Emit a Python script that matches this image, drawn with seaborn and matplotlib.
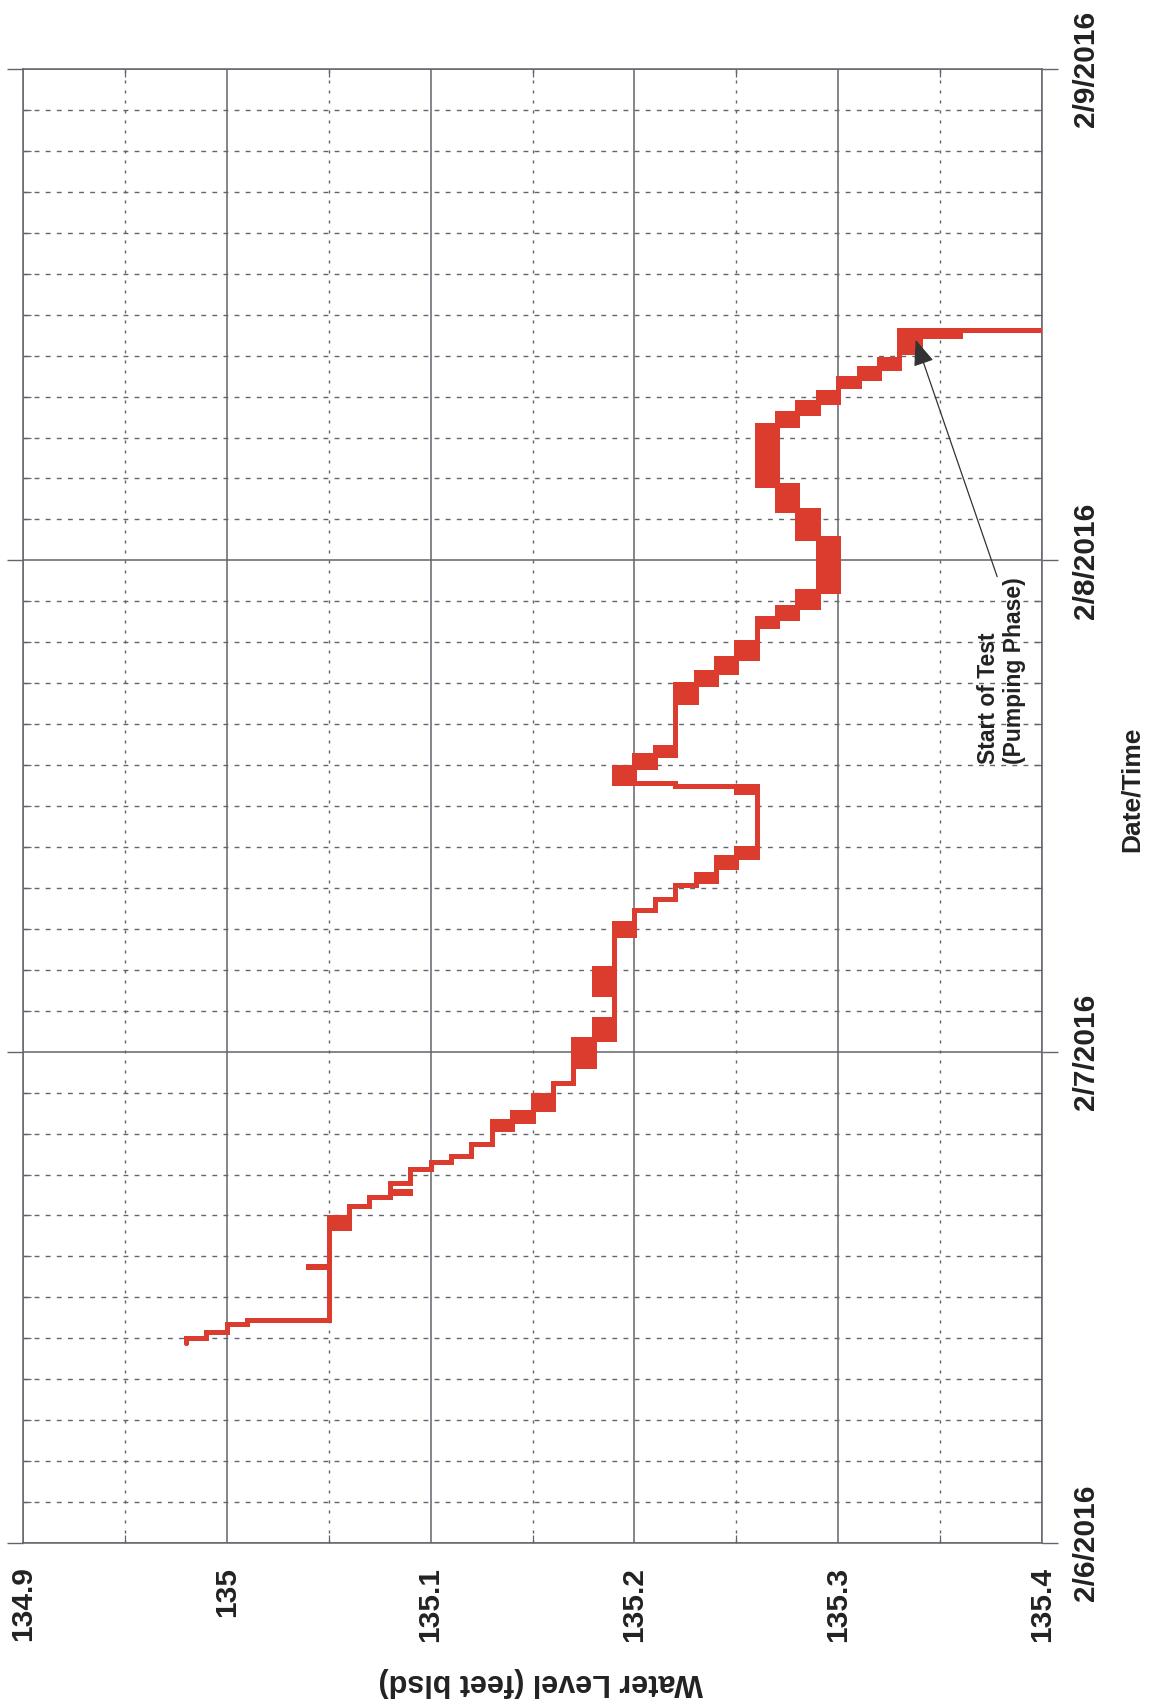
import matplotlib
matplotlib.use("Agg")
import matplotlib.pyplot as plt
import numpy as np
import pandas as pd
import seaborn as sns
from matplotlib.ticker import MultipleLocator

# Transducer record: hours since 2/6/2016 00:00, the reading held from that
# time on, and the upper reading where the logger flickers between two values.
hours = [9.75, 10.0, 10.33, 10.72, 10.87, 13.5, 13.55, 15.4, 15.93, 16.45,
         16.9, 17.12, 17.17, 17.6, 18.27, 18.6, 18.9, 19.5, 20.2, 20.6,
         21.05, 21.2, 21.9, 22.47, 23.3, 23.35, 23.45, 23.5, 23.6, 24.6,
         25.1, 25.3, 25.35, 25.55, 25.6, 26.8, 28.1, 29.7, 30.3, 30.9,
         31.45, 32.15, 32.35, 32.7, 33.0, 33.5, 33.95, 36.7, 37.0, 37.12,
         37.9, 38.5, 38.9, 41.1, 41.95, 42.55, 43.25, 44.0, 44.8, 45.2,
         45.7, 46.5, 49.1, 50.45, 51.7, 54.6, 55.2, 55.75, 56.2, 56.5,
         56.9, 57.4, 57.85, 58.2, 58.95, 59.0, 59.25, 60.0]
level_lo = [134.98, 134.99, 135.00, 135.01, 135.05, 135.04, 135.05, 135.05, 135.06, 135.07,
            135.08, 135.09, 135.08, 135.09, 135.10, 135.11, 135.12, 135.13, 135.13, 135.14,
            135.15, 135.15, 135.16, 135.17, 135.18, 135.17, 135.18, 135.17, 135.17, 135.18,
            135.19, 135.18, 135.19, 135.18, 135.19, 135.18, 135.19, 135.19, 135.20, 135.21,
            135.22, 135.23, 135.23, 135.24, 135.24, 135.25, 135.26, 135.25, 135.22, 135.19,
            135.20, 135.21, 135.22, 135.22, 135.23, 135.24, 135.25, 135.26, 135.26, 135.27,
            135.28, 135.29, 135.28, 135.27, 135.26, 135.27, 135.28, 135.29, 135.30, 135.30,
            135.31, 135.32, 135.33, 135.33, 135.36, 135.33, 135.55, 135.55]
level_hi = [134.98, 134.99, 135.00, 135.01, 135.05, 135.04, 135.05, 135.06, 135.06, 135.07,
            135.08, 135.09, 135.08, 135.09, 135.10, 135.11, 135.12, 135.13, 135.14, 135.15,
            135.15, 135.16, 135.16, 135.17, 135.18, 135.17, 135.18, 135.17, 135.18, 135.19,
            135.19, 135.18, 135.19, 135.18, 135.19, 135.19, 135.19, 135.20, 135.20, 135.21,
            135.22, 135.23, 135.24, 135.24, 135.25, 135.26, 135.26, 135.26, 135.22, 135.20,
            135.21, 135.22, 135.22, 135.23, 135.24, 135.25, 135.26, 135.26, 135.27, 135.28,
            135.29, 135.30, 135.29, 135.28, 135.27, 135.28, 135.29, 135.30, 135.30, 135.31,
            135.32, 135.33, 135.33, 135.34, 135.36, 135.34, 135.55, 135.55]

level_ticks = [134.9, 135.0, 135.1, 135.2, 135.3, 135.4]
level_tick_labels = ["134.9", "135", "135.1", "135.2", "135.3", "135.4"]
day_ticks = [0, 24, 48, 72]
day_labels = ["2/6/2016", "2/7/2016", "2/8/2016", "2/9/2016"]

test_start = (135.338, 58.77)
note_tail = (135.378, 47.2)
note_pos = (135.380, 38.06)

RED = "#dc3c2d"
GRID = "#62656c"
INK = "#222222"

sns.set_theme(style="white")
plt.rcParams["font.family"] = ["Liberation Sans", "DejaVu Sans"]
plt.rcParams["font.weight"] = "bold"
plt.rcParams["axes.labelweight"] = "bold"

fig = plt.figure(figsize=(11.55, 17.04), dpi=100)
fig.patch.set_facecolor("white")
ax = fig.add_axes([23 / 1155, 161 / 1704, 1019 / 1155, 1474 / 1704])

df = pd.DataFrame({"hour": hours, "lo": level_lo, "hi": level_hi})

# flicker bands, then the stepped trace along both bounds
ax.fill_betweenx(df["hour"], df["lo"], df["hi"], step="post", color=RED, lw=0, zorder=3)
for col in ["lo", "hi"]:
    sns.lineplot(data=df, x=col, y="hour", orient="y", estimator=None, sort=True,
                 drawstyle="steps-pre", color=RED, lw=3.6, solid_joinstyle="miter",
                 ax=ax, zorder=4)

ax.set_xlim(134.9, 135.4)
ax.set_ylim(0, 72)

ax.set_xticks(level_ticks)
ax.set_xticklabels(level_tick_labels, rotation=90, fontsize=21.5, color=INK)
ax.xaxis.set_minor_locator(MultipleLocator(0.05))
ax.set_yticks(day_ticks)
ax.set_yticklabels(day_labels, rotation=90, va="center", fontsize=21.5, color=INK)
ax.yaxis.set_minor_locator(MultipleLocator(2))

ax.tick_params(axis="y", which="major", left=True, right=True, labelleft=False,
               labelright=True, direction="out", length=11.5, width=1.0,
               color=GRID, pad=10)
ax.tick_params(axis="y", which="minor", left=True, right=True, direction="in",
               length=6, width=0.9, color=GRID)
ax.tick_params(axis="x", which="major", bottom=True, top=False, length=0, pad=17)
ax.tick_params(axis="x", which="minor", bottom=True, top=True, direction="in",
               length=6, width=0.9, color=GRID)

ax.set_axisbelow(True)
ax.xaxis.grid(True, which="major", color=GRID, lw=1.1, ls="-")
ax.yaxis.grid(True, which="major", color=GRID, lw=1.1, ls="-")
ax.xaxis.grid(True, which="minor", color=GRID, lw=1.0, ls=(0, (2.2, 5.0)))
ax.yaxis.grid(True, which="minor", color=GRID, lw=1.0, ls=(0, (3.5, 4.5)))

for sp in ax.spines.values():
    sp.set_visible(True)
    sp.set_color(GRID)
    sp.set_linewidth(1.1)

ax.set_xlabel("Water Level (feet blsd)", fontsize=22, fontweight="bold",
              rotation=180, color=INK)
ax.xaxis.label.set_va("center")
ax.xaxis.set_label_coords(0.508, -0.0943)

ax.yaxis.set_label_position("right")
ax.set_ylabel("Date/Time", fontsize=19, fontweight="bold", rotation=90, color=INK)
ax.yaxis.label.set_va("center")
ax.yaxis.set_label_coords(1.0883, 0.5115)

ax.annotate("", xy=test_start, xytext=note_tail,
            arrowprops=dict(arrowstyle="-|>,head_length=1.0,head_width=0.4",
                            color="#333333", lw=0.9, mutation_scale=16,
                            shrinkA=0, shrinkB=0), zorder=6)
ax.text(note_pos[0], note_pos[1], "Start of Test\n(Pumping Phase)", rotation=90,
        ha="center", va="bottom", multialignment="left", fontsize=16.5,
        fontweight="bold", linespacing=1.15, color=INK, zorder=6)

fig.savefig("out.png", dpi=100, facecolor="white")
